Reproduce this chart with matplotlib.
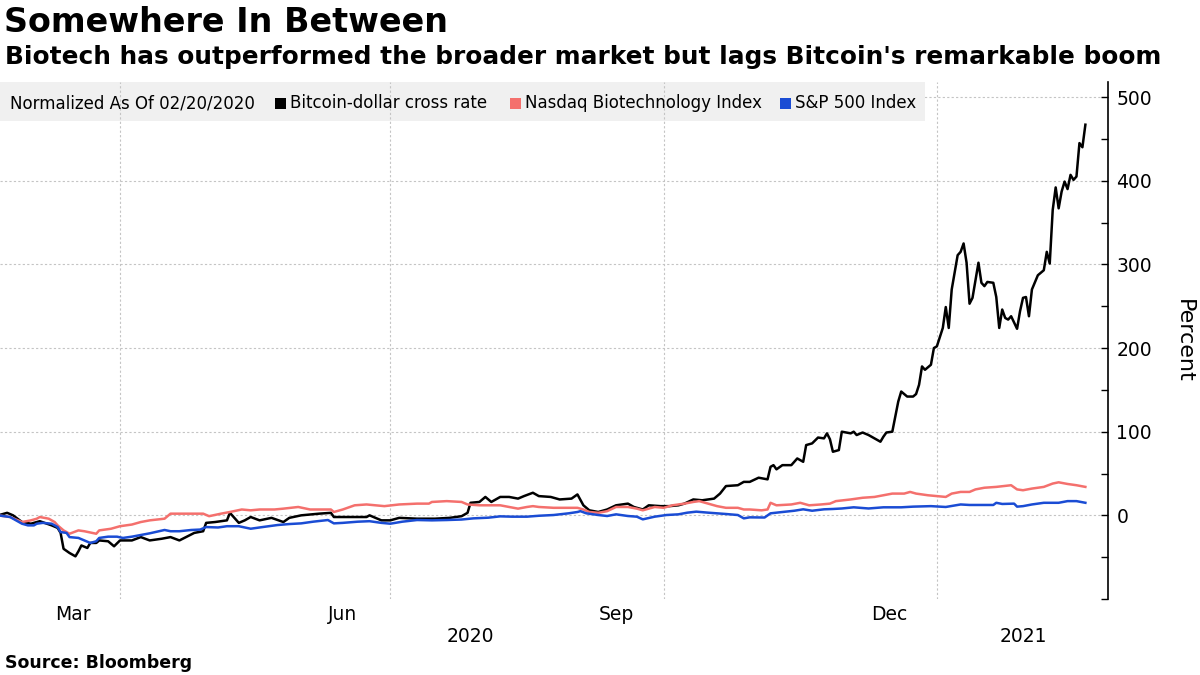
import matplotlib.pyplot as plt
from matplotlib.patches import Rectangle
import numpy as np
import pandas as pd

# all series normalized as of 02/20/2020, x = days after that date
start = pd.Timestamp("2020-02-20")

btc_day = [0, 3, 5, 8, 11, 14, 18, 20, 21, 22, 24, 26, 27, 28, 30, 31, 33, 34, 37, 39,
           41, 45, 48, 51, 55, 58, 61, 66, 69, 70, 73, 77, 78, 81, 83, 85, 88, 92, 96, 98,
           102, 108, 112, 113, 119, 124, 125, 129, 132, 135, 141, 147, 152, 156, 158, 159,
           162, 164, 166, 169, 172, 175, 177, 180, 182, 186, 189, 193, 195, 197, 199, 202,
           205, 208, 212, 214, 217, 219, 223, 226, 229, 231, 234, 237, 241, 243, 245, 249,
           251, 253, 256, 259, 260, 261, 262, 264, 267, 269, 271, 272, 274, 276, 278, 279,
           280, 281, 283, 284, 287, 288, 289, 291, 293, 296, 297, 298, 299, 301, 303, 304,
           306, 308, 309, 310, 311, 312, 314, 315, 316, 318, 319, 320, 321, 323, 324, 325,
           326, 327, 328, 330, 331, 332, 333, 335, 336, 337, 338, 339, 340, 341, 343, 344,
           345, 346, 347, 348, 350, 352, 353, 354, 355, 356, 357, 358, 359, 360, 361, 362,
           363, 364, 365, 366]
btc_pct = [0, 3, 0, -8, -10, -7, -12, -15, -21, -40, -45, -49, -43, -36, -39, -33, -33, -30, -31, -37,
           -30, -30, -26, -30, -28, -26, -30, -21, -19, -9, -8, -6, 3, -9, -6, -2, -6, -3, -8, -3,
           0, 2, 3, -2, -2, -2, 0, -6, -6, -3, -4, -4, -3, -1, 3, 15,
           16, 22, 16, 22, 22, 20, 23, 27, 23, 22, 19, 20, 25, 12, 6, 4,
           7, 12, 14, 10, 7, 12, 11, 11, 12, 14, 19, 18, 20, 26, 35, 36,
           40, 40, 45, 43, 58, 60, 55, 60, 60, 68, 64, 84, 86, 93, 92, 98,
           91, 76, 78, 100, 98, 100, 96, 99, 96, 90, 88, 94, 99, 100, 136, 148,
           142, 142, 145, 156, 178, 174, 180, 200, 202, 224, 249, 224, 270, 311, 315, 325,
           302, 253, 260, 302, 278, 274, 279, 278, 261, 224, 246, 236, 234, 238, 223, 244,
           260, 261, 238, 270, 287, 293, 315, 301, 365, 392, 367, 387, 399, 390, 407, 401,
           405, 445, 440, 467]

nbi_day = [0, 4, 8, 11, 13, 14, 17, 19, 20, 22, 24, 27, 29, 33, 34, 38, 41, 45, 48, 51,
           56, 58, 61, 66, 69, 71, 75, 78, 82, 85, 88, 93, 96, 101, 105, 108, 112, 113, 116, 120,
           124, 130, 135, 141, 145, 146, 151, 156, 158, 162, 166, 169, 172, 175, 178, 180, 182, 187,
           192, 195, 197, 199, 202, 205, 208, 212, 215, 217, 221, 224, 227, 231, 234, 236, 239, 242,
           245, 249, 251, 253, 257, 259, 260, 262, 267, 270, 273, 277, 280, 282, 287, 291, 295, 298,
           301, 305, 307, 309, 313, 316, 319, 321, 324, 327, 329, 332, 336, 341, 343, 345, 348, 352,
           355, 357, 360, 363, 366]
nbi_pct = [0, -2, -8, -6, -4, -2, -4, -8, -12, -18, -22, -18, -19, -22, -18, -16, -13, -11, -8, -6,
           -4, 2, 2, 2, 2, -1, 2, 4, 7, 6, 7, 7, 8, 10, 7, 7, 7, 4, 7, 12,
           13, 11, 13, 14, 14, 16, 17, 16, 13, 12, 12, 12, 10, 8, 10, 11, 10, 9,
           9, 9, 7, 4, 3, 5, 10, 10, 8, 6, 10, 9, 12, 14, 16, 17, 14, 11,
           9, 9, 7, 7, 6, 7, 15, 12, 13, 15, 12, 13, 14, 17, 19, 21, 22, 24,
           26, 26, 28, 26, 24, 23, 22, 26, 28, 28, 31, 33, 34, 36, 31, 30, 32, 34,
           38, 39.5, 37.5, 36, 34]

spx_day = [0, 4, 8, 10, 12, 13, 15, 18, 20, 21, 23, 24, 27, 29, 31, 33, 34, 37, 40, 42,
           45, 48, 51, 56, 58, 61, 65, 68, 70, 74, 77, 81, 83, 85, 89, 94, 98, 102, 106, 111,
           113, 116, 121, 125, 129, 132, 136, 141, 146, 151, 156, 160, 165, 169, 173, 178, 182, 187,
           192, 195, 196, 198, 202, 205, 208, 212, 215, 217, 221, 225, 229, 232, 235, 239, 242, 245,
           249, 251, 253, 258, 260, 263, 268, 271, 274, 278, 281, 284, 288, 293, 298, 304, 308, 314,
           319, 324, 327, 331, 335, 336, 338, 342, 343, 345, 348, 352, 357, 360, 363, 366]
spx_pct = [0, -2, -10, -12, -12, -10, -9, -10, -14, -20, -21, -26, -27, -30, -33, -31, -27, -25.5, -25.5, -27,
           -25.5, -23.5, -21.5, -17.5, -19, -19, -17.5, -17, -14, -14.5, -13, -13, -14.5, -16, -14, -11.6, -10.4, -9.6, -7.6, -5.6,
           -9.6, -9, -7.6, -7, -9, -10, -7.6, -5.6, -6, -5.6, -5, -3.6, -2.8, -1.2, -1.6, -1.6, -0.5, 0.4,
           2.4, 4, 5, 2.4, 0.4, -0.8, 1.2, -0.8, -1.6, -4.8, -1.6, 0.4, 1.2, 3.2, 4.4, 3.2, 2.4, 1.6,
           0.4, -3.6, -2.4, -2.6, 2.4, 3.6, 5.5, 7.2, 5.5, 7.2, 7.6, 8.2, 9.6, 8.2, 9.6, 9.6, 10.4, 11,
           10, 13, 12.4, 12.4, 12.4, 15, 13.6, 14, 10.4, 11, 13, 15, 15, 17, 17, 15]

series_names = ["Bitcoin-dollar cross rate", "Nasdaq Biotechnology Index", "S&P 500 Index"]
colors = ["#000000", "#f4706d", "#1a4cd4"]

month_pos = ["2020-03-16", "2020-06-15", "2020-09-15", "2020-12-16"]
month_lab = ["Mar", "Jun", "Sep", "Dec"]
year_pos = ["2020-07-28", "2021-01-30"]
year_lab = ["2020", "2021"]
quarter_lines = ["2020-04-01", "2020-07-01", "2020-10-01", "2021-01-01"]
y_ticks = [0, 100, 200, 300, 400, 500]

fig = plt.figure(figsize=(12, 6.75), dpi=100)
ax = fig.add_axes([0, 0.1126, 0.9233, 0.7659])

days = [btc_day, nbi_day, spx_day]
vals = [btc_pct, nbi_pct, spx_pct]
for d, v, c in zip(days, vals, colors):
    x = start + pd.to_timedelta(d, unit="D")
    ax.plot(x, v, color=c, lw=1.8, zorder=4)

ax.set_xlim(start + pd.Timedelta(days=0.6), start + pd.Timedelta(days=373.6))
ax.set_ylim(-100, 518)

# grid
for y in y_ticks:
    ax.axhline(y, color="#c4c4c4", lw=0.8, ls=(0, (2, 2)), zorder=0)
for d in quarter_lines:
    ax.axvline(pd.Timestamp(d), color="#c4c4c4", lw=0.8, ls=(0, (2, 2)), zorder=1.5)

# legend strip
W, H = 1108.0, 517.0
ax.add_patch(Rectangle((0, (599 - 121) / H), 925 / W, 39 / H, transform=ax.transAxes,
                       facecolor="#f0f0f0", edgecolor="none", zorder=1, clip_on=False))
ly = (599 - 103) / H
ax.text(10 / W, ly, "Normalized As Of 02/20/2020", transform=ax.transAxes,
        fontsize=12, va="center", ha="left", zorder=3)
sq_x = [275, 510, 780]
for sx, name, c in zip(sq_x, series_names, colors):
    ax.add_patch(Rectangle((sx / W, ly - 5.5 / H), 11 / W, 11 / H, transform=ax.transAxes,
                           facecolor=c, edgecolor="none", zorder=3, clip_on=False))
    ax.text((sx + 15) / W, ly, name, transform=ax.transAxes, fontsize=12,
            va="center", ha="left", zorder=3)

# axes
for s in ["top", "left", "bottom"]:
    ax.spines[s].set_visible(False)
ax.spines["right"].set_linewidth(1.2)
ax.yaxis.tick_right()
ax.yaxis.set_label_position("right")
ax.set_yticks([-100] + y_ticks)
ax.set_yticklabels([""] + [str(t) for t in y_ticks])
ax.set_yticks(np.arange(-50, 500, 100), minor=True)
ax.tick_params(axis="y", which="both", direction="in", length=5, width=1,
               labelsize=13.5, pad=6)
ax.set_ylabel("Percent", rotation=270, fontsize=16, labelpad=16, va="bottom")

ax.set_xticks(pd.to_datetime(month_pos))
ax.set_xticklabels(month_lab)
ax.tick_params(axis="x", which="both", length=0, labelsize=13.5, pad=4)
for d, lab in zip(year_pos, year_lab):
    ax.text(pd.Timestamp(d), -0.0735, lab, transform=ax.get_xaxis_transform(),
            ha="center", va="center", fontsize=13.5)

fig.text(0.003, 1 - 6 / 675, "Somewhere In Between", fontsize=24, fontweight="bold", va="top")
fig.text(0.004, 1 - 45 / 675,
         "Biotech has outperformed the broader market but lags Bitcoin's remarkable boom",
         fontsize=17.8, fontweight="bold", va="top")
fig.text(0.004, 1 - 654 / 675, "Source: Bloomberg", fontsize=12.5, fontweight="bold", va="top")

fig.savefig("out.png", dpi=100)
